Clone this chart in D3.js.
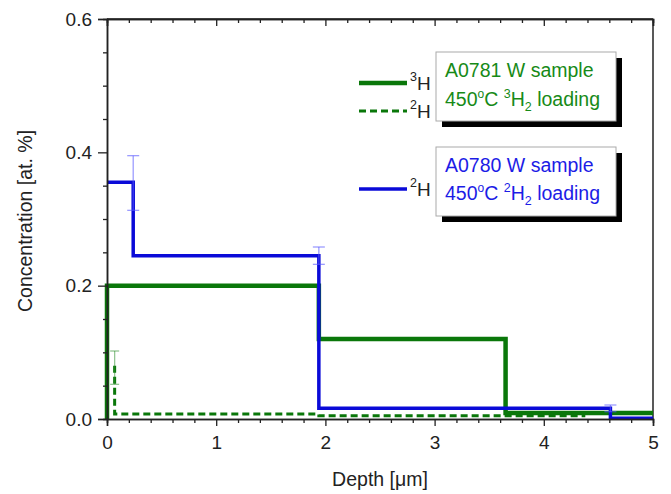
<!DOCTYPE html>
<html><head><meta charset="utf-8">
<script src="https://cdn.jsdelivr.net/npm/d3@7/dist/d3.min.js"></script>
<style>body{margin:0;background:#fff}text{font-family:"Liberation Sans",Arial,sans-serif}</style>
</head><body><svg id="c" width="671" height="494"></svg>
<script>
// ---- data ----
const xTicksMajor = [0, 1, 2, 3, 4, 5];
const yTicksMajor = [0.0, 0.2, 0.4, 0.6];
// A0780, 2H loading (blue) step profile
const blueEdges = [0, 0.24, 1.94, 4.61, 5];
const blueConc = [0.355, 0.245, 0.016, 0.001];
const blueErrX = [0.24, 1.94, 4.61];
const blueErrY = [0.354, 0.245, 0.016];
const blueErr = [0.041, 0.013, 0.005];
// A0781, 3H (green solid)
const greenEdges = [0, 1.94, 3.65, 5];
const greenConc = [0.2, 0.12, 0.009];
// A0781, 2H (green dashed)
const dashEdges = [0.07, 1.94, 4.38];
const dashConc = [0.0075, 0.005];
const dashTop = 0.08;
const dashErrX = [0.07];
const dashErrY = [0.077];
const dashErr = [0.025];

const svg = d3.select("#c");
const x = d3.scaleLinear().domain([0, 5]).range([107, 653]);
const y = d3.scaleLinear().domain([0, 0.6]).range([419, 19]);

const GREEN = "#0a770a", BLUE = "#0a0ad8";
const GREEN_T = "#178a17", BLUE_T = "#1c1ce6";
const FONT = '"Liberation Sans",Arial,sans-serif';

function stepPoints(edges, vals, start) {
  const pts = [];
  if (start !== undefined) pts.push([edges[0], start]);
  for (let i = 0; i < vals.length; i++) {
    pts.push([edges[i], vals[i]]);
    pts.push([edges[i + 1], vals[i]]);
  }
  return pts;
}
const line = d3.line().x(d => x(d[0])).y(d => y(d[1]));

// frame: top & right lines
svg.append("line").attr("x1", x(0)).attr("x2", x(5)).attr("y1", y(0.6)).attr("y2", y(0.6)).attr("stroke", "#222").attr("stroke-width", 1.5);
svg.append("line").attr("x1", x(5)).attr("x2", x(5)).attr("y1", y(0.6)).attr("y2", y(0)).attr("stroke", "#222").attr("stroke-width", 1.5);

// data lines
const gData = svg.append("g");
gData.append("path").attr("d", line(stepPoints(dashEdges, dashConc, dashTop)))
  .attr("fill", "none").attr("stroke", GREEN).attr("stroke-width", 3).attr("stroke-dasharray", "7,4");
gData.append("path").attr("d", line(stepPoints(greenEdges, greenConc, 0)))
  .attr("fill", "none").attr("stroke", GREEN).attr("stroke-width", 4.5);
gData.append("path").attr("d", line(stepPoints(blueEdges, blueConc)))
  .attr("fill", "none").attr("stroke", BLUE).attr("stroke-width", 3.5);

function errBars(xs, ys, es, color, cap) {
  xs.forEach((xv, i) => {
    const g = gData.append("g").attr("stroke", color).attr("stroke-width", 1.3);
    g.append("line").attr("x1", x(xv)).attr("x2", x(xv)).attr("y1", y(ys[i] - es[i])).attr("y2", y(ys[i] + es[i]));
    [ys[i] - es[i], ys[i] + es[i]].forEach(v => g.append("line").attr("x1", x(xv) - cap / 2).attr("x2", x(xv) + cap / 2).attr("y1", y(v)).attr("y2", y(v)));
  });
}
errBars(blueErrX, blueErrY, blueErr, "rgba(90,90,255,0.6)", 12);
errBars(dashErrX, dashErrY, dashErr, "rgba(40,140,40,0.5)", 9);

// axes
function styleAxis(g) {
  g.selectAll(".domain").attr("stroke", "#222").attr("stroke-width", 1.5);
  g.selectAll(".tick line").attr("stroke", "#222").attr("stroke-width", 1.3);
  g.selectAll("text").attr("font-size", "19px").attr("fill", "#222").style("font-family", FONT);
}
const xMinor = d3.range(0, 5.0001, 0.2).filter(v => Math.abs(v - Math.round(v)) > 1e-6);
const yMinor = d3.range(0, 0.6001, 0.05).filter(v => Math.abs(v * 5 - Math.round(v * 5)) > 1e-6);

// bottom
svg.append("g").attr("transform", `translate(0,${y(0)})`)
  .call(d3.axisBottom(x).tickValues(xMinor).tickSize(4).tickFormat("")).call(styleAxis);
svg.append("g").attr("transform", `translate(0,${y(0)})`)
  .call(d3.axisBottom(x).tickValues(xTicksMajor).tickSize(7).tickPadding(10).tickFormat(d3.format("d"))).call(styleAxis);
// top (inward)
svg.append("g").attr("transform", `translate(0,${y(0.6)})`)
  .call(d3.axisBottom(x).tickValues(xMinor).tickSize(4).tickFormat("")).call(styleAxis);
svg.append("g").attr("transform", `translate(0,${y(0.6)})`)
  .call(d3.axisBottom(x).tickValues(xTicksMajor).tickSize(7).tickFormat("")).call(styleAxis);
// left
svg.append("g").attr("transform", `translate(${x(0)},0)`)
  .call(d3.axisLeft(y).tickValues(yMinor).tickSize(4).tickFormat("")).call(styleAxis);
svg.append("g").attr("transform", `translate(${x(0)},0)`)
  .call(d3.axisLeft(y).tickValues(yTicksMajor).tickSize(9).tickPadding(6).tickFormat(d3.format(".1f"))).call(styleAxis);

// axis titles
svg.append("text").attr("x", 380).attr("y", 486).attr("text-anchor", "middle").attr("font-size", "19.5px").attr("fill", "#222").text("Depth [μm]");
svg.append("text").attr("transform", "translate(32,221) rotate(-90)").attr("text-anchor", "middle").attr("font-size", "19.5px").attr("fill", "#222").text("Concentration [at. %]");

// legend boxes
function box(bx, by, bw, bh) {
  svg.append("rect").attr("x", bx + 6).attr("y", by + 6).attr("width", bw).attr("height", bh).attr("fill", "#000");
  svg.append("rect").attr("x", bx).attr("y", by).attr("width", bw).attr("height", bh).attr("fill", "#fff").attr("stroke", "#aaa").attr("stroke-width", 1);
}
function boxText(tx, y1, y2, color, sample, iso) {
  svg.append("text").attr("x", tx).attr("y", y1).attr("font-size", "19.5px").attr("fill", color).text(sample);
  const t = svg.append("text").attr("x", tx).attr("y", y2).attr("font-size", "19.5px").attr("fill", color);
  t.append("tspan").text("450");
  t.append("tspan").attr("font-size", "12px").attr("dy", -8).text("o");
  t.append("tspan").attr("dy", 8).text("C ");
  t.append("tspan").attr("font-size", "12.5px").attr("dy", -8).text(iso);
  t.append("tspan").attr("dy", 8).text("H");
  t.append("tspan").attr("font-size", "12.5px").attr("dy", 5).text("2");
  t.append("tspan").attr("dy", -5).text(" loading");
}
box(436, 52, 180, 69);
boxText(445, 77, 106, GREEN_T, "A0781 W sample", "3");
box(436, 147, 180, 69);
boxText(445, 172, 200, BLUE_T, "A0780 W sample", "2");

function legLine(ly, color, w, dash, iso) {
  const l = svg.append("line").attr("x1", 359).attr("x2", 407).attr("y1", ly).attr("y2", ly).attr("stroke", color).attr("stroke-width", w);
  if (dash) l.attr("stroke-dasharray", dash);
  const t = svg.append("text").attr("x", 410).attr("y", ly + 7).attr("font-size", "19px").attr("fill", "#222");
  t.append("tspan").attr("font-size", "12.5px").attr("dy", -9).text(iso);
  t.append("tspan").attr("dy", 9).text("H");
}
legLine(83, GREEN, 4.5, null, "3");
legLine(111, GREEN, 3, "7,4", "2");
legLine(189, BLUE, 3.5, null, "2");
</script></body></html>
